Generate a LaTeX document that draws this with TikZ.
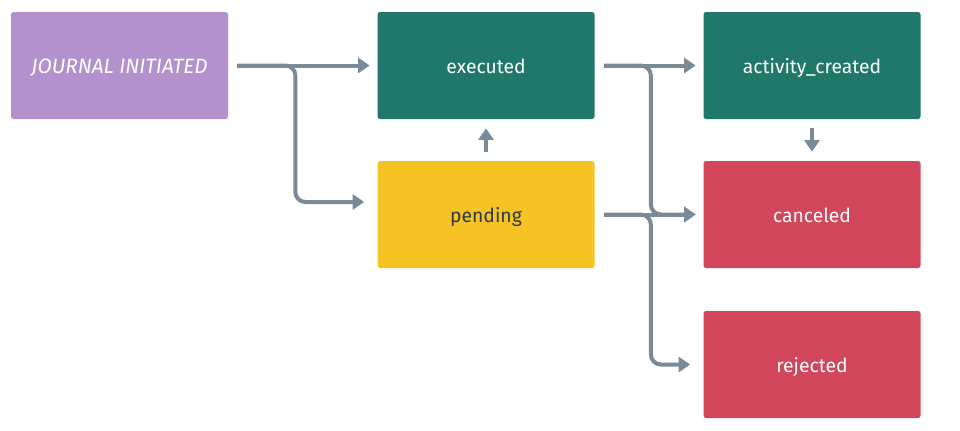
\documentclass[tikz,border=0pt]{standalone}
\usepackage{fontspec}
\setmainfont{Fira Sans}
\usetikzlibrary{arrows.meta}
\definecolor{jrnlpurple}{HTML}{B391CC}
\definecolor{okgreen}{HTML}{20786A}
\definecolor{waityellow}{HTML}{F6C324}
\definecolor{failred}{HTML}{D1465A}
\definecolor{flowgray}{HTML}{7B8A97}
\definecolor{darktext}{HTML}{2B3A4A}
\tikzset{
  state/.style={rectangle, rounded corners=0.05cm, minimum width=4.34cm,
    minimum height=2.14cm, inner sep=0pt, text=white, text height=1.0em,
    text depth=0.1em, font=\fontsize{11}{13}\selectfont},
  flow/.style={draw=flowgray, line width=0.08cm, rounded corners=0.2cm,
    -{Triangle[length=0.23cm, width=0.3cm]}, shorten <=0.18cm, shorten >=0.15cm},
}
\begin{document}
\begin{tikzpicture}
\useasboundingbox (0,0) rectangle (19.2,-8.6);
% states
\node [state, fill=jrnlpurple] (jrnl) at (2.39,-1.31) {\fontsize{11.8}{13}\selectfont\itshape JOURNAL INITIATED};
\node [state, fill=okgreen] (exec) at (9.72,-1.31) {executed};
\node [state, fill=waityellow, text=darktext] (pend) at (9.72,-4.29) {pending};
\node [state, fill=okgreen] (act) at (16.24,-1.31) {activity\_created};
\node [state, fill=failred] (canc) at (16.24,-4.29) {canceled};
\node [state, fill=failred] (rej) at (16.24,-7.29) {rejected};
% transitions
\draw [flow] (jrnl.east) -- (exec.west);
\draw [flow, shorten >=0.26cm] (jrnl.east) -- ++(1.34,0) |- ([yshift=0.25cm]pend.west);
\draw [flow] (exec.east) -- (act.west);
\draw [flow] (exec.east) -- ++(1.12,0) |- (canc.west);
\draw [flow] (pend.east) -- (canc.west);
\draw [flow, shorten >=0.26cm] (pend.east) -- ++(1.12,0) |- (rej.west);
\draw [flow, shorten >=0.18cm] (pend.north) -- (exec.south);
\draw [flow, shorten >=0.18cm] (act.south) -- (canc.north);
\end{tikzpicture}
\end{document}
